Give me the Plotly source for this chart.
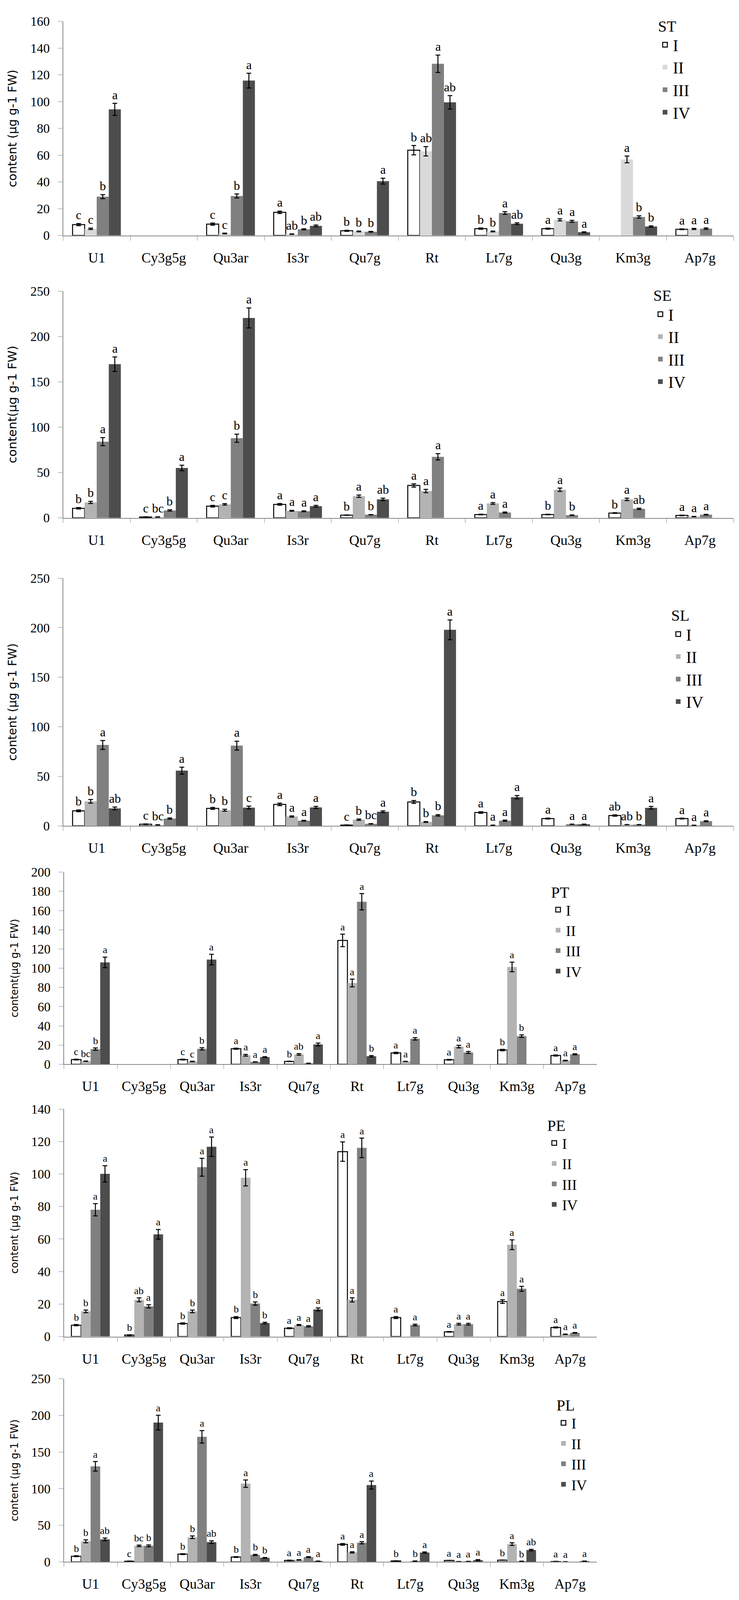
import plotly.graph_objects as go

W, H = 1891, 4370

categories = ["U1", "Cy3g5g", "Qu3ar", "Is3r", "Qu7g", "Rt", "Lt7g", "Qu3g", "Km3g", "Ap7g"]
series_names = ["I", "II", "III", "IV"]

# ---- ST ----
st_vals = [
    [8.1, None, 8.5, 17.3, 3.5, 63.7, 5.1, 5.1, None, 4.6],
    [5.0, None, 1.5, 1.0, 3.0, 62.9, 3.0, 11.7, 56.8, 4.9],
    [29.0, None, 29.5, 4.6, 2.8, 128.3, 16.8, 10.6, 13.8, 5.1],
    [94.2, None, 115.7, 7.2, 40.6, 99.5, 8.8, 2.4, 6.7, None],
]
st_errs = [
    [0.8, 0, 0.8, 0.9, 0.4, 3.5, 0.5, 0.4, 0, 0.3],
    [0.5, 0, 0.3, 0.2, 0.3, 3.5, 0.3, 0.8, 2.5, 0.4],
    [1.5, 0, 1.5, 0.4, 0.3, 6.5, 1.0, 0.7, 0.9, 0.5],
    [4.5, 0, 5.5, 0.6, 2.2, 5.0, 0.6, 0.3, 0.5, 0],
]
st_lets = [
    ["c", "", "c", "a", "b", "b", "b", "a", "", "a"],
    ["c", "", "c", "ab", "b", "ab", "b", "a", "a", "a"],
    ["b", "", "b", "b", "b", "a", "a", "a", "b", "a"],
    ["a", "", "a", "ab", "a", "ab", "ab", "a", "b", ""],
]

# ---- SE ----
se_vals = [
    [10.6, 1.0, 12.9, 14.9, 3.0, 35.7, 3.7, 3.7, 5.3, 2.7],
    [17.0, 1.0, 14.9, 7.8, 23.9, 29.6, 15.9, 31.0, 20.4, 1.4],
    [84.0, 8.2, 87.8, 7.3, 3.5, 67.3, 5.9, 3.0, 10.0, 3.5],
    [169.4, 55.0, 220.4, 12.9, 20.4, None, None, None, None, None],
]
se_errs = [
    [0.8, 0.2, 0.9, 0.9, 0.2, 1.8, 0.4, 0.4, 0.4, 0.3],
    [1.2, 0.2, 0.8, 0.5, 1.3, 1.8, 0.9, 1.8, 1.3, 0.2],
    [4.5, 0.7, 4.5, 0.5, 0.2, 3.5, 0.6, 0.2, 0.7, 0.4],
    [8.0, 3.0, 11.0, 0.9, 1.3, 0, 0, 0, 0, 0],
]
se_lets = [
    ["b", "c", "c", "a", "b", "a", "a", "b", "b", "a"],
    ["b", "bc", "c", "a", "a", "a", "a", "a", "a", "a"],
    ["a", "b", "b", "a", "b", "a", "a", "b", "ab", "a"],
    ["a", "a", "a", "a", "ab", "", "", "", "", ""],
]

# ---- SL ----
sl_vals = [
    [15.2, 1.7, 17.7, 21.7, 0.8, 24.2, 13.5, 7.4, 10.5, 7.4],
    [24.8, 1.0, 15.8, 9.5, 6.3, 4.0, 0.6, None, 1.3, 0.6],
    [81.7, 7.4, 81.0, 5.3, 2.1, 10.7, 5.3, 1.7, 1.3, 4.8],
    [17.7, 55.8, 18.5, 18.7, 14.3, 197.9, 29.0, 1.7, 18.3, None],
]
sl_errs = [
    [0.9, 0.3, 1.0, 1.3, 0.2, 1.5, 0.8, 0.5, 0.7, 0.4],
    [1.8, 0.2, 1.0, 0.6, 0.6, 0.4, 0.2, 0, 0.1, 0.1],
    [4.5, 0.6, 4.5, 0.4, 0.2, 0.7, 0.5, 0.1, 0.1, 0.4],
    [1.4, 3.5, 1.4, 1.0, 0.9, 10.0, 1.7, 0.1, 1.3, 0],
]
sl_lets = [
    ["b", "c", "b", "a", "c", "b", "a", "a", "ab", "a"],
    ["b", "bc", "b", "a", "b", "b", "a", "", "ab", "a"],
    ["a", "b", "a", "a", "bc", "b", "a", "a", "b", "a"],
    ["ab", "a", "c", "a", "a", "a", "a", "a", "a", ""],
]

# ---- PT ----
pt_vals = [
    [4.9, None, 4.9, 16.2, 2.9, 128.9, 11.8, 4.7, 14.8, 9.1],
    [3.2, None, 2.9, 9.4, 10.3, 84.6, 2.9, 18.4, 101.3, 3.9],
    [15.8, None, 16.0, 2.4, 1.0, 169.2, 26.5, 12.3, 29.3, 10.4],
    [106.0, None, 109.0, 7.4, 20.6, 8.3, None, None, None, None],
]
pt_errs = [
    [0.4, 0, 0.4, 0.6, 0.2, 6.5, 0.7, 0.4, 0.8, 0.6],
    [0.2, 0, 0.3, 0.9, 0.8, 4.0, 0.1, 1.3, 5.0, 0.3],
    [1.2, 0, 1.2, 0.1, 0.1, 8.5, 1.3, 1.0, 1.3, 0.5],
    [5.5, 0, 5.5, 0.4, 1.5, 0.7, 0, 0, 0, 0],
]
pt_lets = [
    ["c", "", "c", "a", "b", "a", "a", "a", "b", "a"],
    ["bc", "", "c", "a", "ab", "a", "a", "a", "a", "a"],
    ["b", "", "b", "a", "", "a", "a", "a", "b", "a"],
    ["a", "", "a", "a", "a", "b", "", "", "", ""],
]

# ---- PE ----
pe_vals = [
    [7.0, 0.9, 8.0, 11.7, 5.1, 113.8, 11.7, 2.9, 21.5, 5.6],
    [15.5, 22.6, 15.5, 97.7, 7.1, 22.6, None, 7.6, 56.5, 1.4],
    [78.0, 18.6, 104.2, 20.3, 6.3, 116.1, 7.1, 7.6, 29.4, 2.3],
    [100.1, 62.9, 116.8, 8.3, 16.7, None, None, None, None, None],
]
pe_errs = [
    [0.4, 0.2, 0.4, 0.6, 0.3, 6.0, 0.6, 0.2, 1.1, 0.3],
    [0.8, 1.2, 0.8, 5.0, 0.3, 1.3, 0, 0.5, 3.0, 0.1],
    [3.8, 1.0, 5.5, 1.0, 0.4, 6.0, 0.5, 0.5, 1.5, 0.2],
    [5.0, 3.0, 6.0, 0.5, 0.9, 0, 0, 0, 0, 0],
]
pe_lets = [
    ["b", "b", "b", "b", "a", "a", "a", "a", "a", "a"],
    ["b", "ab", "b", "a", "a", "a", "", "a", "a", "a"],
    ["a", "a", "a", "b", "a", "a", "a", "a", "a", "a"],
    ["a", "a", "a", "b", "a", "", "", "", "", ""],
]

# ---- PL ----
pl_vals = [
    [7.7, 0.9, 10.6, 6.6, 2.0, 23.9, 1.3, 2.0, 2.4, 0.4],
    [28.1, 21.9, 33.6, 106.9, 2.7, 13.0, None, 0.4, 24.3, 0.2],
    [130.5, 21.9, 170.8, 9.5, 6.6, 26.1, 1.1, 0.7, 0.9, None],
    [30.8, 190.3, 27.0, 5.5, 1.1, 104.9, 12.8, 2.4, 16.2, 1.0],
]
pl_errs = [
    [0.6, 0.2, 0.6, 0.5, 0.3, 1.2, 0.1, 0.1, 0.1, 0.3],
    [2.0, 1.0, 1.8, 5.0, 0.3, 0.8, 0, 0.1, 1.8, 0.1],
    [6.5, 1.3, 8.5, 0.7, 0.5, 1.5, 0.2, 0.1, 0.1, 0],
    [1.8, 10.0, 1.8, 0.4, 0.1, 5.5, 0.8, 0.8, 1.0, 0.1],
]
pl_lets = [
    ["b", "c", "b", "b", "a", "a", "b", "a", "b", "a"],
    ["b", "bc", "b", "a", "a", "a", "", "a", "a", "a"],
    ["a", "b", "a", "b", "a", "a", "b", "a", "b", ""],
    ["ab", "a", "ab", "b", "a", "a", "a", "a", "ab", "a"],
]

# panel layout: pixel box (left, right, top, zero line), legend corner, sizes
panels = [
    dict(name="ST", vals=st_vals, errs=st_errs, lets=st_lets, ymax=160, dtick=20,
         box=(155, 1885, 32, 625), leg=(1688, 4), gap=14, title="content (μg g-1 FW)",
         c2="#d9d9d9", lsize=32, tsize=30),
    dict(name="SE", vals=se_vals, errs=se_errs, lets=se_lets, ymax=250, dtick=50,
         box=(155, 1885, 779, 1407), leg=(1676, 750), gap=30, title="content(μg g-1 FW)",
         c2="#b3b3b3", lsize=32, tsize=31),
    dict(name="SL", vals=sl_vals, errs=sl_errs, lets=sl_lets, ymax=250, dtick=50,
         box=(155, 1885, 1574, 2260), leg=(1722, 1636), gap=3, title="content (μg g-1 FW)",
         c2="#b3b3b3", lsize=32, tsize=30),
    dict(name="PT", vals=pt_vals, errs=pt_errs, lets=pt_lets, ymax=200, dtick=20,
         box=(157, 1532, 2388, 2920), leg=(1412, 2402), gap=0, title="content(μg g-1 FW)",
         c2="#b3b3b3", lsize=26, tsize=26),
    dict(name="PE", vals=pe_vals, errs=pe_errs, lets=pe_lets, ymax=140, dtick=20,
         box=(157, 1532, 3044, 3674), leg=(1402, 3048), gap=0, title="content (μg g-1 FW)",
         c2="#b3b3b3", lsize=26, tsize=26),
    dict(name="PL", vals=pl_vals, errs=pl_errs, lets=pl_lets, ymax=250, dtick=50,
         box=(157, 1532, 3791, 4298), leg=(1426, 3823), gap=0, title="content (μg g-1 FW)",
         c2="#b3b3b3", lsize=26, tsize=26),
]

serif = "Liberation Serif, Times New Roman, serif"
bargap = 0.28
bw = (1 - bargap) / 4

fig = go.Figure()
annotations = []
layout = {}

for p_i, p in enumerate(panels):
    sfx = "" if p_i == 0 else str(p_i + 1)
    xa, ya = "x" + sfx, "y" + sfx
    leg_id = "legend" + sfx
    colors = ["#ffffff", p["c2"], "#808080", "#4d4d4d"]
    for k in range(4):
        fig.add_trace(go.Bar(
            x=categories, y=p["vals"][k], name=series_names[k],
            xaxis=xa, yaxis=ya, legend=leg_id, legendgroup=p["name"] + str(k),
            marker=dict(color=colors[k], line=dict(color="black" if k == 0 else colors[k],
                                                   width=2.5 if k == 0 else 0)),
            error_y=dict(type="data", array=p["errs"][k], color="black", thickness=2.5, width=6),
        ))
        off = -(1 - bargap) / 2 + bw * (k + 0.5)
        for j, v in enumerate(p["vals"][k]):
            t = p["lets"][k][j]
            if v is None or not t:
                continue
            annotations.append(dict(
                x=j + off, y=v + p["errs"][k][j], xref=xa, yref=ya, text=t,
                showarrow=False, yanchor="bottom", yshift=2,
                font=dict(family=serif, size=p["lsize"], color="black"),
            ))
    L, R, T, Z = p["box"]
    layout["xaxis" + sfx] = dict(
        domain=[L / W, R / W], anchor=ya, type="category", range=[-0.5, 9.5],
        showline=True, linecolor="#878787", linewidth=1.5,
        ticks="outside", tickson="boundaries", ticklen=11, tickcolor="#878787",
        ticklabelstandoff=24, showgrid=False, zeroline=False, fixedrange=True,
        tickfont=dict(family=serif, size=36, color="black"),
    )
    layout["yaxis" + sfx] = dict(
        domain=[1 - Z / H, 1 - T / H], anchor=xa, range=[0, p["ymax"]], dtick=p["dtick"],
        showline=True, linecolor="#878787", linewidth=1.5,
        ticks="outside", ticklen=12, tickcolor="#878787", ticklabelstandoff=14,
        showgrid=False, zeroline=False,
        tickfont=dict(family=serif, size=33, color="black"),
        title=dict(text=p["title"], standoff=26,
                   font=dict(family="DejaVu Sans, Verdana, sans-serif", size=p["tsize"], color="black")),
    )
    lx, ly = p["leg"]
    layout[leg_id] = dict(
        x=lx / W, y=1 - ly / H, xanchor="left", yanchor="top",
        bgcolor="rgba(0,0,0,0)", traceorder="normal", tracegroupgap=p["gap"],
        title=dict(text=p["name"], side="top", font=dict(family=serif, size=40, color="black")),
        font=dict(family=serif, size=42 if p_i < 3 else 38, color="black"),
        itemwidth=30,
    )

# size comes from the browser window so nothing falls below its bottom edge
fig.update_layout(
    autosize=True, barmode="group", bargap=bargap, bargroupgap=0,
    margin=dict(l=0, r=0, t=0, b=0), plot_bgcolor="white", paper_bgcolor="white",
    annotations=annotations, **layout,
)

fig.write_html("out.html", default_width="100%", default_height="calc(100vh - 20px)")
